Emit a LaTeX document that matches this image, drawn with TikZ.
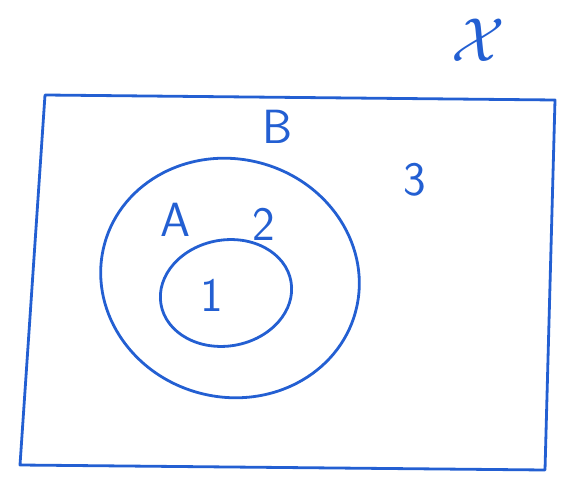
\documentclass[tikz,border=0pt]{standalone}
\usepackage{fontspec}
\usepackage{graphicx}
\definecolor{pen}{RGB}{35,95,210}
\tikzset{
  penline/.style={draw=pen, line width=2.8pt, line join=round, line cap=round},
  lbl/.style={text=pen, font=\fontsize{48}{56}\selectfont\sffamily, inner sep=0pt}
}
\begin{document}
\begin{tikzpicture}[x=1pt,y=-1pt]
\useasboundingbox (0,0) rectangle (565,484);
% universe
\draw[penline] (45,95) -- (555,100) -- (545,470) -- (20,465) -- cycle;
% outer set
\draw[penline, rotate around={-15:(230,278)}] (230,278) ellipse [x radius=130pt, y radius=119pt];
% inner set
\draw[penline, rotate around={10:(226,293)}] (226,293) ellipse [x radius=66pt, y radius=53pt];
% labels
\node[lbl] (X) at (478,40) {\scalebox{2.5}{$\mathcal{X}$}};
\node[lbl] (B) at (278,127) {B};
\node[lbl] (three) at (415,180) {3};
\node[lbl] (A) at (175,220) {A};
\node[lbl] (two) at (264,224) {2};
\node[lbl] (one) at (212,295) {1};
\end{tikzpicture}
\end{document}
